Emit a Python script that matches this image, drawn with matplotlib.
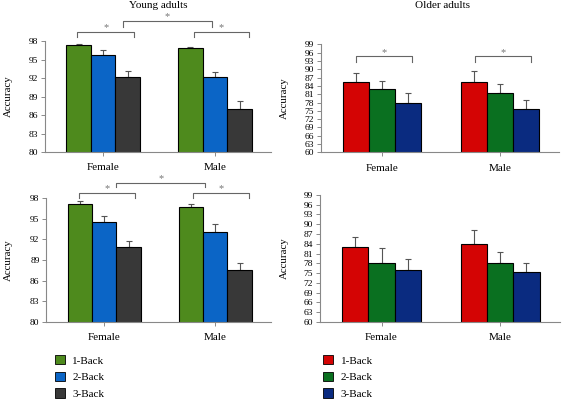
import numpy as np
import matplotlib.pyplot as plt
from matplotlib.patches import Patch

plt.rcParams['font.family'] = ['Liberation Serif', 'DejaVu Serif']

#
# Data
#
groups = ['Female', 'Male']
conditions = ['1-Back', '2-Back', '3-Back']

# young adults, top panel
young_top = [[97.4, 95.7, 92.2], [96.8, 92.2, 87.0]]
young_top_err = [[0.1, 0.8, 1.0], [0.3, 0.8, 1.2]]
# young adults, bottom panel
young_bot = [[97.1, 94.5, 90.9], [96.6, 93.0, 87.5]]
young_bot_err = [[0.4, 0.8, 0.8], [0.5, 1.2, 1.1]]
# older adults, top panel
older_top = [[85.4, 82.8, 77.7], [85.4, 81.6, 75.7]]
older_top_err = [[3.2, 2.9, 3.7], [3.9, 3.1, 3.2]]
# older adults, bottom panel
older_bot = [[82.9, 78.1, 75.9], [83.8, 78.1, 75.2]]
older_bot_err = [[3.2, 4.5, 3.3], [4.4, 3.3, 3.0]]

young_ticks = [80, 83, 86, 89, 92, 95, 98]
older_ticks = list(range(60, 100, 3))

young_colors = ['#4e8a1d', '#0b65c6', '#383838']
older_colors = ['#d40404', '#0a7020', '#0a2b80']

# significance brackets: (x0, x1, y_bar, y_foot_left, y_foot_right)
tl_brackets = [(-0.23, 0.28, 99.5, 98.65, 98.65),
               (0.18, 0.97, 101.25, 100.3, 100.3),
               (0.81, 1.30, 99.5, 98.65, 98.65)]
bl_brackets = [(-0.23, 0.28, 98.75, 97.9, 97.9),
               (0.11, 0.91, 100.2, 99.6, 99.6),
               (0.80, 1.30, 98.75, 97.9, 97.9)]
tr_brackets = [(-0.225, 0.25, 94.8, 92.6, 92.6),
               (0.79, 1.26, 94.8, 92.6, 92.6)]

width = 0.22
x = np.arange(len(groups))

fig = plt.figure(figsize=(5.62, 4.0), dpi=100)
ax_tl = fig.add_axes([0.080, 0.620, 0.402, 0.2775])
ax_tr = fig.add_axes([0.571, 0.619, 0.424, 0.270])
ax_bl = fig.add_axes([0.0827, 0.195, 0.399, 0.3105])
ax_br = fig.add_axes([0.569, 0.195, 0.427, 0.318])


def draw_panel(ax, vals, errs, colors, ticks, label_x):
    vals = np.array(vals)
    errs = np.array(errs)
    for i in range(len(conditions)):
        pos = x + (i - 1) * width
        ax.bar(pos, vals[:, i], width, color=colors[i], edgecolor='black',
               linewidth=0.8, zorder=2)
        ax.errorbar(pos, vals[:, i], yerr=[np.zeros(len(groups)), errs[:, i]],
                    fmt='none', ecolor='#555555', elinewidth=0.8, capsize=2,
                    capthick=0.8, zorder=1)
    ax.set_ylim(ticks[0], ticks[-1])
    ax.set_yticks(ticks)
    ax.set_xlim(-0.52, 1.5)
    ax.set_xticks(x)
    ax.set_xticklabels(groups, fontsize=8)
    ax.tick_params(axis='y', labelsize=6.8, length=3, width=0.6, color='#777777', pad=2)
    ax.tick_params(axis='x', length=3, width=0.6, color='#777777', pad=5)
    for s in ['top', 'right']:
        ax.spines[s].set_visible(False)
    for s in ['left', 'bottom']:
        ax.spines[s].set_color('#888888')
        ax.spines[s].set_linewidth(0.8)
    ax.set_ylabel('Accuracy', fontsize=7.8)
    ax.yaxis.set_label_coords(label_x, 0.5)


def draw_brackets(ax, brackets):
    for x0, x1, yb, yl, yr in brackets:
        ax.plot([x0, x0, x1, x1], [yl, yb, yb, yr], color='#666666', lw=0.8,
                clip_on=False, zorder=3)
        span = ax.get_ylim()[1] - ax.get_ylim()[0]
        ax.text((x0 + x1) / 2, yb + span * 0.035, '*', ha='center', va='center',
                fontsize=7.5, color='#777777')


draw_panel(ax_tl, young_top, young_top_err, young_colors, young_ticks, -0.14)
draw_panel(ax_bl, young_bot, young_bot_err, young_colors, young_ticks, -0.15)
draw_panel(ax_tr, older_top, older_top_err, older_colors, older_ticks, -0.135)
draw_panel(ax_br, older_bot, older_bot_err, older_colors, older_ticks, -0.13)

draw_brackets(ax_tl, tl_brackets)
draw_brackets(ax_bl, bl_brackets)
draw_brackets(ax_tr, tr_brackets)

fig.text(0.281, 1 - 5 / 400, 'Young adults', ha='center', va='center', fontsize=8)
fig.text(0.788, 1 - 5 / 400, 'Older adults', ha='center', va='center', fontsize=8)

#
# Legends under the bottom panels
#
for colors, xl in [(young_colors, 0.097), (older_colors, 0.575)]:
    handles = [Patch(facecolor=c, edgecolor='black', linewidth=0.6) for c in colors]
    fig.legend(handles, conditions, loc='upper left', bbox_to_anchor=(xl, 0.112),
               frameon=False, fontsize=8, handlelength=0.9, handleheight=0.9,
               labelspacing=0.55, handletextpad=0.7, borderpad=0, borderaxespad=0)

fig.savefig('out.png', dpi=100)
